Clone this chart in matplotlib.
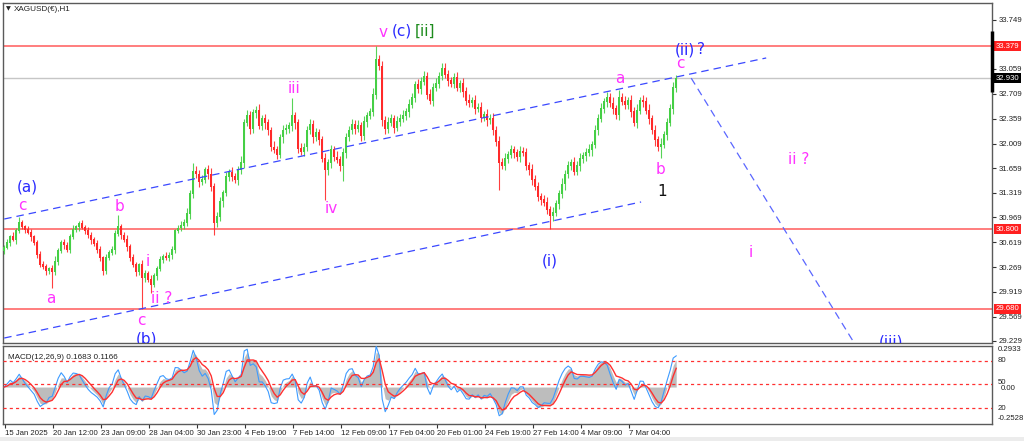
import numpy as np
import pandas as pd
import matplotlib
matplotlib.use("Agg")
import matplotlib.pyplot as plt
from matplotlib.patches import Rectangle

# ---------------- data ----------------
symbol_title = "XAGUSD(\u20ac),H1"

first_open = 30.50
closes = [
    30.55, 30.62, 30.70, 30.66, 30.78, 30.90, 30.84, 30.80, 30.76, 30.70,
    30.62, 30.45, 30.30, 30.28, 30.22, 30.25, 30.20, 30.35, 30.50, 30.62,
    30.58, 30.52, 30.70, 30.80, 30.84, 30.88, 30.83, 30.78, 30.72, 30.66,
    30.60, 30.52, 30.40, 30.22, 30.40, 30.48, 30.52, 30.74, 30.84, 30.72,
    30.66, 30.56, 30.40, 30.30, 30.20, 30.30, 30.12, 30.18, 30.10, 30.02,
    30.15, 30.25, 30.38, 30.42, 30.40, 30.44, 30.52, 30.78, 30.82, 30.86,
    30.90, 31.02, 31.30, 31.62, 31.58, 31.48, 31.50, 31.64, 31.58, 31.40,
    30.90, 30.98, 31.20, 31.32, 31.55, 31.60, 31.54, 31.50, 31.64, 31.74,
    32.30, 32.40, 32.22, 32.44, 32.48, 32.26, 32.36, 32.30, 32.20, 31.96,
    31.92, 31.86, 32.10, 32.20, 32.22, 32.26, 32.40, 32.30, 31.94, 31.90,
    31.96, 32.20, 32.28, 32.10, 32.16, 32.06, 31.80, 31.64, 31.74, 31.92,
    31.82, 31.78, 31.70, 31.88, 32.10, 32.20, 32.28, 32.22, 32.26, 32.12,
    32.32, 32.40, 32.46, 32.70, 33.20, 33.10, 32.34, 32.22, 32.30, 32.36,
    32.24, 32.32, 32.36, 32.40, 32.46, 32.56, 32.66, 32.84, 32.78, 32.88,
    32.96, 32.70, 32.62, 32.80, 32.86, 32.96, 33.06, 32.98, 32.90, 32.86,
    32.94, 32.80, 32.86, 32.74, 32.62, 32.58, 32.62, 32.50, 32.52, 32.38,
    32.42, 32.34, 32.36, 32.20, 32.04, 31.74, 31.70, 31.80, 31.86, 31.92,
    31.88, 31.82, 31.90, 31.88, 31.70, 31.64, 31.50, 31.40, 31.26, 31.22,
    31.18, 31.08, 31.00, 31.04, 31.16, 31.30, 31.44, 31.58, 31.70, 31.74,
    31.62, 31.70, 31.80, 31.84, 31.88, 31.92, 32.00, 32.20, 32.36, 32.50,
    32.60, 32.66, 32.58, 32.50, 32.42, 32.66, 32.60, 32.56, 32.62, 32.46,
    32.30, 32.48, 32.62, 32.60, 32.48, 32.36, 32.20, 32.06, 31.96, 32.00,
    32.14, 32.30, 32.50, 32.80, 32.93,
]

# shadow lengths beyond the candle body, in cents
wick_up = [
    3, 5, 2, 6, 4, 8, 3, 2, 5, 4,   2, 3, 4, 6, 3, 2, 5, 7, 4, 3,
    5, 4, 3, 6, 2, 4, 5, 3, 6, 4,   3, 5, 4, 2, 6, 3, 4, 5, 8, 3,
    4, 6, 3, 5, 4, 3, 7, 5, 4, 6,   3, 4, 5, 3, 6, 4, 5, 3, 4, 6,
    5, 8, 6, 4, 7, 5, 6, 4, 6, 8,   5, 7, 6, 4, 6, 5, 8, 6, 5, 9,
    6, 8, 7, 5, 6, 9, 5, 7, 6, 4,   8, 6, 5, 7, 6, 5, 8, 6, 5, 7,
    6, 5, 8, 6, 7, 5, 6, 8, 5, 7,   6, 8, 5, 7, 6, 5, 7, 6, 8, 5,
    7, 6, 5, 9, 8, 6, 7, 5, 8, 6,   5, 7, 6, 8, 5, 7, 6, 5, 8, 6,
    7, 5, 8, 6, 7, 5, 6, 8, 7, 5,   6, 8, 5, 7, 6, 8, 5, 7, 6, 8,
    5, 7, 6, 8, 5, 7, 6, 8, 5, 7,   6, 5, 8, 6, 7, 5, 8, 6, 7, 5,
    6, 8, 5, 7, 6, 5, 8, 6, 7, 5,   8, 6, 7, 5, 6, 8, 5, 7, 6, 8,
    5, 7, 6, 8, 5, 7, 6, 8, 5, 7,   6, 8, 5, 7, 6, 8, 5, 7, 6, 8,
    5, 7, 6, 8, 5,
]
wick_dn = [
    4, 3, 5, 2, 6, 3, 4, 5, 3, 6,   4, 5, 3, 4, 6, 5, 3, 4, 5, 3,
    6, 4, 5, 3, 4, 6, 3, 5, 4, 6,   3, 5, 4, 6, 5, 3, 4, 6, 3, 5,
    4, 6, 5, 3, 6, 4, 5, 6, 4, 5,   3, 6, 4, 5, 3, 4, 6, 5, 3, 4,
    6, 5, 7, 6, 5, 8, 6, 5, 7, 6,   5, 7, 6, 8, 5, 7, 6, 5, 8, 6,
    7, 5, 8, 6, 7, 5, 6, 8, 7, 6,   5, 7, 6, 8, 5, 6, 7, 8, 6, 5,
    7, 6, 5, 8, 6, 7, 5, 6, 8, 7,   6, 5, 8, 6, 7, 5, 6, 8, 5, 7,
    6, 8, 5, 7, 6, 5, 8, 7, 6, 5,   8, 6, 7, 5, 6, 8, 5, 7, 6, 8,
    5, 7, 6, 8, 5, 7, 6, 5, 8, 6,   7, 5, 6, 8, 7, 5, 6, 8, 5, 7,
    6, 8, 5, 7, 6, 8, 5, 7, 6, 5,   8, 6, 7, 5, 6, 8, 7, 5, 6, 8,
    5, 7, 6, 8, 5, 7, 6, 8, 5, 7,   6, 5, 8, 6, 7, 5, 8, 6, 7, 5,
    6, 8, 5, 7, 6, 8, 5, 7, 6, 8,   5, 7, 6, 8, 5, 7, 6, 8, 5, 7,
    6, 8, 5, 7, 6,
]

# long shadows (bar index, extreme price)
spike_bars = [5, 16, 33, 38, 46, 49, 63, 70, 96, 107, 113, 124, 146, 165, 182, 205, 219]
spike_prices = [30.98, 29.97, 30.16, 31.00, 29.68, 29.90, 31.73, 30.72, 32.65, 31.21,
                31.48, 33.379, 33.15, 31.35, 30.80, 32.76, 31.81]

level_prices = [33.379, 30.800, 29.680]
last_price = 32.930

price_ticks = [33.749, 33.059, 32.709, 32.359, 32.009, 31.659, 31.319,
               30.969, 30.619, 30.269, 29.919, 29.569, 29.229]

date_labels = ["15 Jan 2025", "20 Jan 12:00", "23 Jan 09:00", "28 Jan 04:00",
               "30 Jan 23:00", "4 Feb 19:00", "7 Feb 14:00", "12 Feb 09:00",
               "17 Feb 04:00", "20 Feb 01:00", "24 Feb 19:00", "27 Feb 14:00",
               "4 Mar 09:00", "7 Mar 04:00"]

# trend channel and projection lines: (bar, price) endpoints
upper_channel = ([0, 254], [30.946, 33.214])
lower_channel = ([0, 212.3], [29.27, 31.186])
projection = ([229, 284.5], [32.93, 29.12])

# wave labels: text, bar, price, colour
MAG, BLU, GRN, BLK = "#ff33ff", "#2a2aff", "#1e8c1e", "#111111"
wave_labels = [
    ("(a)", 7.7, 31.40, BLU), ("c", 6.0, 31.13, MAG), ("a", 15.7, 29.83, MAG),
    ("b", 38.3, 31.12, MAG), ("i", 48.0, 30.35, MAG), ("ii ?", 52.5, 29.82, MAG),
    ("c", 45.7, 29.51, MAG), ("(b)", 47.3, 29.25, BLU), ("iii", 96.7, 32.79, MAG),
    ("iv", 109.0, 31.09, MAG), ("v", 126.3, 33.57, MAG), ("(c)", 132.5, 33.59, BLU),
    ("[ii]", 140.3, 33.59, GRN), ("a", 205.3, 32.92, MAG), ("(ii)", 226.8, 33.33, BLU),
    ("?", 232.3, 33.34, BLU), ("c", 225.3, 33.14, MAG), ("b", 218.7, 31.64, MAG),
    ("1", 219.3, 31.34, BLK), ("(i)", 182.0, 30.35, BLU), ("ii ?", 264.7, 31.78, MAG),
    ("i", 249.0, 30.48, MAG), ("(iii)", 295.7, 29.22, BLU),
]

macd_title = "MACD(12,26,9) 0.1683 0.1166"

# ---------------- derived OHLC ----------------
c = np.array(closes)
o = np.concatenate([[first_open], c[:-1]])
h = np.maximum(o, c) + np.array(wick_up) / 100.0
l = np.minimum(o, c) - np.array(wick_dn) / 100.0
for b, p in zip(spike_bars, spike_prices):
    if p > max(o[b], c[b]):
        h[b] = p
    else:
        l[b] = p
idx = np.arange(len(c))

# MACD on bars that each span roughly four hours
s = pd.Series(c)
macd = s.ewm(span=3.0, adjust=False).mean() - s.ewm(span=6.5, adjust=False).mean()
fast_line = s.ewm(span=2.0, adjust=False).mean() - s.ewm(span=5.0, adjust=False).mean()
signal = macd.ewm(span=3.2, adjust=False).mean()

# ---------------- figure ----------------
NARROW = ["Liberation Sans Narrow", "Liberation Sans", "DejaVu Sans"]
SMALL = 5.6

W, H = 1024, 441
fig = plt.figure(figsize=(W / 100, H / 100), dpi=100)
fig.patch.set_facecolor("white")

def fx(px):
    return px / W

def fy(py):
    return 1 - py / H

ax = fig.add_axes([fx(3), fy(343), fx(992) - fx(3), fy(3) - fy(343)])
axm = fig.add_axes([fx(3), fy(424), fx(992) - fx(3), fy(346) - fy(424)])

XMAX = (992 - 3) / 3.0
for a in (ax, axm):
    a.set_xlim(-0.4, XMAX - 0.4)
    a.set_facecolor("white")
    for sp in a.spines.values():
        sp.set_color("#5a5a5a")
        sp.set_linewidth(1.0)

ax.set_ylim(29.200, 33.988)

# levels
ax.axhline(last_price, color="#c6c6c6", lw=1.0, zorder=1)
for lp in level_prices:
    ax.axhline(lp, color="#ff5a5a", lw=1.1, zorder=1)

# candles
up = c >= o
UPC, DNC = "#45cf45", "#ff2a2a"
cols = np.where(up, UPC, DNC)
ax.vlines(idx, l, h, colors=cols, lw=0.8, zorder=3, alpha=0.9)
ax.bar(idx, np.abs(c - o) + 0.012, bottom=np.minimum(o, c) - 0.006, width=0.7,
       color=cols, edgecolor="none", zorder=3)

# channel lines
dash = (0, (6, 4))
for xs, ys in (upper_channel, lower_channel):
    ax.plot(xs, ys, color="#3a48ff", lw=0.9, ls=dash, zorder=4)
ax.plot(projection[0], projection[1], color="#5a66ff", lw=0.9, ls=dash, zorder=4)

# wave labels
for t, xb, yp, col in wave_labels:
    ax.text(xb, yp, t, color=col, fontsize=11, ha="center", va="center",
            zorder=6, clip_on=True)

# price axis
ax.yaxis.tick_right()
ax.set_yticks(price_ticks)
ax.set_yticklabels([f"{v:.3f}" for v in price_ticks], family=NARROW)
ax.tick_params(axis="y", labelsize=SMALL, length=3, width=0.8, colors="#333333",
               labelcolor="#222222", pad=1.5)
ax.set_xticks([])

# boxed price tags
tag = dict(transform=ax.get_yaxis_transform(), fontsize=SMALL, color="white",
           va="center", ha="left", zorder=10, family=NARROW)
for lp in level_prices:
    ax.text(1.0035, lp, f"{lp:.3f}",
            bbox=dict(boxstyle="square,pad=0.2", fc="#ff2020", ec="none"), **tag)
ax.text(1.0035, last_price, f"{last_price:.3f}",
        bbox=dict(boxstyle="square,pad=0.2", fc="black", ec="none"), **tag)
ax.plot([1.0, 1.0], [33.60, 32.74], transform=ax.get_yaxis_transform(),
        color="black", lw=2.5, clip_on=False, zorder=11, solid_capstyle="butt")

fig.text(fx(6), fy(9), "\u25bc", fontsize=4.5, va="center", ha="left", color="#222222")
fig.text(fx(14), fy(9.5), symbol_title, fontsize=SMALL + 0.3, va="center", ha="left",
         color="#222222", family=NARROW)

# ---------------- MACD panel ----------------
axm.set_ylim(-0.27, 0.30)
axm.fill_between(idx, 0, macd.values, color="#bdbdbd", lw=0, zorder=2)
axm.plot(idx, fast_line.values, color="#3d9bff", lw=0.8, zorder=3)
axm.plot(idx, signal.values, color="#ff3030", lw=1.0, zorder=4)

lv = axm.twinx()
lv.set_ylim(-0.33, 98.85)
for v in (20, 50, 80):
    lv.axhline(v, color="#ff3030", lw=0.9, ls=(0, (2.5, 2.5)), zorder=1)
lv.set_yticks([])
for sp in lv.spines.values():
    sp.set_visible(False)

axm.set_yticks([])
rt = dict(fontsize=SMALL, color="#222222", va="center", ha="left",
          transform=axm.transAxes, family=NARROW)
axm.text(1.006, 0.95, "0.2933", **rt)
axm.text(1.006, 0.81, "80", **rt)
axm.text(1.006, 0.53, "50", **rt)
axm.text(1.009, 0.46, "0.00", **rt)
axm.text(1.006, 0.205, "20", **rt)
axm.text(1.006, 0.075, "-0.2528", **rt)
axm.text(0.005, 0.85, macd_title, fontsize=SMALL + 0.3, color="#222222",
         va="center", ha="left", transform=axm.transAxes, family=NARROW)

tick_pos = [0.33 + 15.99 * k for k in range(len(date_labels))]
axm.set_xticks(tick_pos)
axm.set_xticklabels(date_labels, family=NARROW)
axm.tick_params(axis="x", labelsize=SMALL, length=3, width=0.8, colors="#333333",
                labelcolor="#222222", pad=1.5)
for lab in axm.get_xticklabels():
    lab.set_horizontalalignment("left")

fig.patches.append(Rectangle((0, 0), 1, 4 / H, transform=fig.transFigure,
                             fc="#ececec", ec="none", zorder=-1))

fig.savefig("out.png", dpi=100)
